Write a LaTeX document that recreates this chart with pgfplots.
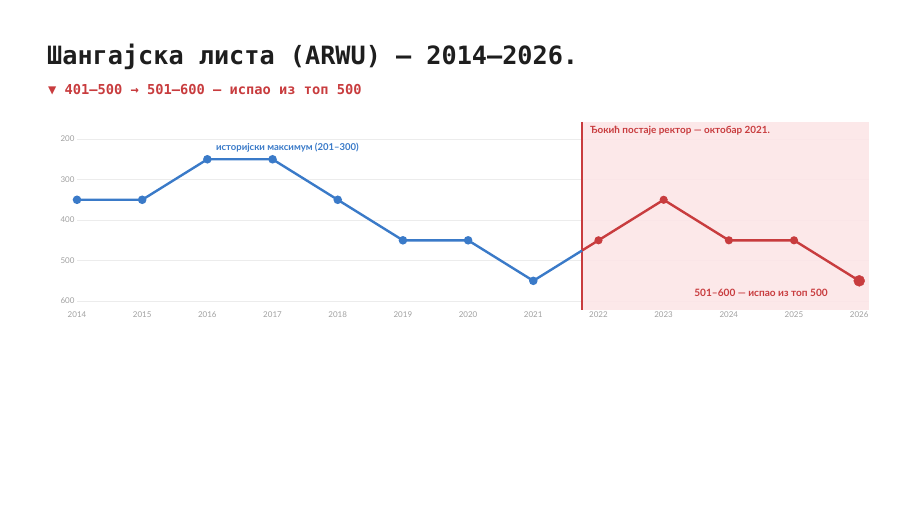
\documentclass[border=0pt]{standalone}
\usepackage{pgfplots}
\pgfplotsset{compat=1.18}
\usepackage{fontspec}
\setmainfont{Lato}
\newfontfamily\monofont{DejaVu Sans Mono}
\definecolor{cblue}{RGB}{58,122,200}
\definecolor{cred}{RGB}{200,60,62}
\definecolor{cpink}{RGB}{252,229,231}
\definecolor{cgrid}{RGB}{236,236,236}
\definecolor{ctick}{RGB}{160,160,160}
\definecolor{ctitle}{RGB}{30,30,30}
\begin{document}
\begin{tikzpicture}[x=1pt,y=1pt]
\useasboundingbox (0,0) rectangle (906,513);
\node[anchor=west, inner sep=0, text=ctitle, font=\monofont\bfseries\fontsize{25.2}{30}\selectfont] at (47,456) {Шангајска листа (ARWU) — 2014–2026.};
\node[anchor=west, inner sep=0, text=cred, font=\monofont\bfseries\fontsize{13.7}{16}\selectfont] at (48,423) {▼ 401–500 → 501–600 — испао из топ 500};
\begin{axis}[
  at={(77pt,203pt)}, anchor=south west,
  scale only axis, width=792pt, height=188pt,
  xmin=2014, xmax=2026.15, ymin=158, ymax=622,
  y dir=reverse, clip=false,
  axis line style={draw=none},
  major tick style={draw=none},
  xtick={2014,...,2026}, ytick={200,300,400,500,600},
  ymajorgrids, grid style={cgrid, line width=0.8pt},
  /pgf/number format/assume math mode=true,
  /pgf/number format/1000 sep={},
  tick label style={font=\fontsize{8}{10}\selectfont, text=ctick},
  xticklabel style={yshift=2pt},
  yticklabel style={xshift=1pt},
]
\fill[cpink, opacity=0.9] (axis cs:2021.75,158) rectangle (axis cs:2026.15,622);
\draw[cred, line width=1.8pt] (axis cs:2021.75,158) -- (axis cs:2021.75,622);
\addplot[cblue, line width=2.4pt, mark=*, mark size=3pt, mark indices={1,...,8}, mark options={solid}]
  coordinates {(2014,350)(2015,350)(2016,250)(2017,250)(2018,350)(2019,450)(2020,450)(2021,550)(2021.75,475)};
\addplot[cred, line width=2.4pt, mark=*, mark size=2.8pt, mark indices={2,...,5}]
  coordinates {(2021.75,475)(2022,450)(2023,350)(2024,450)(2025,450)(2026,550)};
\addplot[cred, only marks, mark=*, mark size=5.5pt] coordinates {(2026,550)};
\node[anchor=west, inner sep=0, text=cblue, font=\bfseries\fontsize{9.5}{11}\selectfont] at (axis cs:2016.13,222) {историјски максимум (201–300)};
\node[anchor=west, inner sep=0, text=cred, font=\bfseries\fontsize{9.9}{11}\selectfont] at (axis cs:2021.87,180) {Ђокић постаје ректор — октобар 2021.};
\node[anchor=east, inner sep=0, text=cred, font=\bfseries\fontsize{10.1}{12}\selectfont] at (axis cs:2025.52,580) {501–600 — испао из топ 500};
\end{axis}
\end{tikzpicture}
\end{document}
